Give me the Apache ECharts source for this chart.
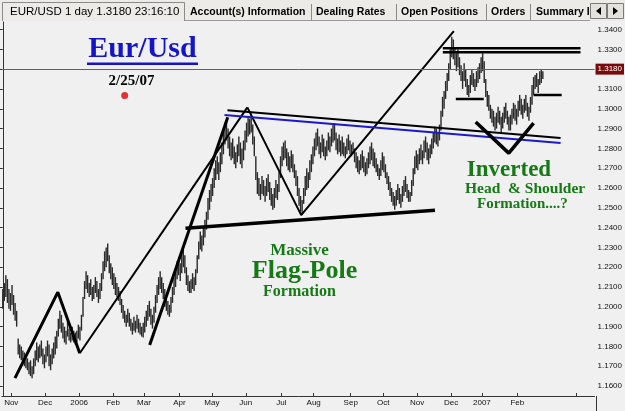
<!DOCTYPE html>
<html>
<head>
<meta charset="utf-8">
<script src="https://cdn.jsdelivr.net/npm/echarts@6/dist/echarts.min.js"></script>
<style>
  html, body { margin: 0; padding: 0; background: #f0f0f0; }
  #chart { width: 625px; height: 411px; }
</style>
</head>
<body>
<div id="chart"></div>
<script>
// daily bars, index 0 = 24 Oct 2005 ... 350 = 26 Feb 2007
var highs = [
  1.2090,1.2120,1.2160,1.2140,1.2090,1.2070,1.2110,1.2060,1.2020,1.1980,
  1.1840,1.1810,1.1800,1.1780,1.1770,1.1750,1.1740,1.1720,1.1730,1.1700,
  1.1740,1.1780,1.1820,1.1800,1.1810,1.1830,1.1790,1.1760,1.1800,1.1830,
  1.1810,1.1760,1.1790,1.1820,1.1850,1.1880,1.1940,1.1980,1.1960,1.1920,
  1.1900,1.1880,1.1930,1.1890,1.1870,1.1900,1.1880,1.1870,1.1880,1.1910,
  1.1900,1.1960,1.2050,1.2130,1.2180,1.2160,1.2120,1.2140,1.2100,1.2110,
  1.2150,1.2130,1.2090,1.2120,1.2170,1.2230,1.2280,1.2300,1.2320,1.2260,
  1.2220,1.2200,1.2170,1.2150,1.2120,1.2100,1.2080,1.2040,1.2010,1.1980,
  1.1960,1.1990,1.1970,1.1940,1.1920,1.1950,1.1930,1.1960,1.1940,1.1920,
  1.1900,1.1920,1.1950,1.1980,1.2010,1.2030,1.1990,1.1960,1.2000,1.2060,
  1.2110,1.2150,1.2180,1.2150,1.2120,1.2090,1.2060,1.2030,1.2010,1.2050,
  1.2100,1.2150,1.2190,1.2230,1.2250,1.2220,1.2270,1.2300,1.2260,1.2200,
  1.2160,1.2130,1.2140,1.2170,1.2150,1.2190,1.2260,1.2330,1.2380,1.2360,
  1.2400,1.2440,1.2480,1.2550,1.2590,1.2620,1.2650,1.2700,1.2740,1.2760,
  1.2730,1.2780,1.2830,1.2880,1.2930,1.2940,1.2900,1.2860,1.2830,1.2850,
  1.2810,1.2780,1.2820,1.2860,1.2830,1.2800,1.2840,1.2890,1.2930,1.2960,
  1.2950,1.2975,1.2920,1.2860,1.2760,1.2680,1.2650,1.2620,1.2660,1.2640,
  1.2610,1.2650,1.2670,1.2630,1.2600,1.2570,1.2600,1.2640,1.2620,1.2680,
  1.2760,1.2810,1.2830,1.2840,1.2800,1.2780,1.2760,1.2790,1.2770,1.2720,
  1.2690,1.2660,1.2600,1.2560,1.2540,1.2600,1.2660,1.2700,1.2680,1.2740,
  1.2770,1.2810,1.2850,1.2880,1.2900,1.2860,1.2830,1.2870,1.2850,1.2810,
  1.2840,1.2880,1.2860,1.2900,1.2920,1.2928,1.2880,1.2850,1.2870,1.2840,
  1.2860,1.2830,1.2810,1.2850,1.2870,1.2840,1.2820,1.2830,1.2800,1.2780,
  1.2760,1.2740,1.2770,1.2790,1.2760,1.2730,1.2750,1.2780,1.2810,1.2830,
  1.2800,1.2780,1.2750,1.2720,1.2700,1.2740,1.2780,1.2760,1.2720,1.2680,
  1.2660,1.2630,1.2600,1.2580,1.2560,1.2590,1.2620,1.2600,1.2570,1.2610,
  1.2640,1.2660,1.2620,1.2590,1.2580,1.2640,1.2700,1.2760,1.2790,1.2770,
  1.2800,1.2820,1.2790,1.2840,1.2860,1.2830,1.2800,1.2820,1.2850,1.2880,
  1.2910,1.2900,1.2880,1.2920,1.2990,1.3060,1.3090,1.3140,1.3180,1.3230,
  1.3300,1.3364,1.3350,1.3310,1.3280,1.3300,1.3260,1.3220,1.3190,1.3230,
  1.3200,1.3150,1.3120,1.3170,1.3200,1.3180,1.3150,1.3190,1.3210,1.3230,
  1.3260,1.3280,1.3240,1.3150,1.3090,1.3070,1.3020,1.3000,1.2990,1.2960,
  1.2980,1.3010,1.2990,1.2960,1.2980,1.3010,1.3030,1.2990,1.2960,1.2970,
  1.3000,1.3030,1.3020,1.3000,1.3040,1.3070,1.3050,1.3020,1.3050,1.3070,
  1.3030,1.3010,1.3060,1.3120,1.3160,1.3170,1.3180,1.3150,1.3190,1.3200,1.3190
];
var lows = [
  1.1990,1.2030,1.2050,1.2020,1.1990,1.1980,1.2010,1.1960,1.1930,1.1900,
  1.1760,1.1740,1.1730,1.1720,1.1700,1.1690,1.1680,1.1660,1.1650,1.1640,
  1.1660,1.1700,1.1730,1.1720,1.1740,1.1750,1.1710,1.1690,1.1720,1.1750,
  1.1700,1.1680,1.1710,1.1740,1.1760,1.1790,1.1850,1.1890,1.1870,1.1840,
  1.1820,1.1810,1.1850,1.1830,1.1820,1.1830,1.1820,1.1810,1.1820,1.1840,
  1.1830,1.1880,1.1950,1.2040,1.2090,1.2070,1.2050,1.2060,1.2030,1.2040,
  1.2070,1.2050,1.2020,1.2040,1.2080,1.2140,1.2180,1.2200,1.2230,1.2170,
  1.2140,1.2110,1.2090,1.2060,1.2050,1.2030,1.2010,1.1970,1.1940,1.1920,
  1.1900,1.1920,1.1900,1.1880,1.1860,1.1880,1.1870,1.1890,1.1870,1.1860,
  1.1850,1.1845,1.1870,1.1900,1.1930,1.1950,1.1910,1.1890,1.1920,1.1970,
  1.2020,1.2060,1.2090,1.2070,1.2040,1.2000,1.1980,1.1960,1.1950,1.1970,
  1.2020,1.2060,1.2100,1.2140,1.2160,1.2130,1.2170,1.2200,1.2170,1.2110,
  1.2080,1.2070,1.2070,1.2090,1.2080,1.2110,1.2170,1.2240,1.2290,1.2280,
  1.2310,1.2350,1.2390,1.2440,1.2490,1.2530,1.2560,1.2600,1.2640,1.2670,
  1.2640,1.2680,1.2720,1.2770,1.2820,1.2840,1.2800,1.2760,1.2740,1.2750,
  1.2720,1.2700,1.2730,1.2760,1.2720,1.2700,1.2740,1.2790,1.2830,1.2860,
  1.2870,1.2880,1.2820,1.2760,1.2640,1.2570,1.2560,1.2540,1.2570,1.2560,
  1.2530,1.2560,1.2580,1.2540,1.2510,1.2490,1.2500,1.2550,1.2540,1.2580,
  1.2650,1.2710,1.2740,1.2750,1.2710,1.2690,1.2680,1.2700,1.2680,1.2650,
  1.2610,1.2560,1.2510,1.2480,1.2470,1.2520,1.2560,1.2590,1.2600,1.2640,
  1.2680,1.2720,1.2760,1.2790,1.2810,1.2770,1.2750,1.2780,1.2760,1.2740,
  1.2760,1.2790,1.2780,1.2810,1.2830,1.2840,1.2790,1.2770,1.2780,1.2760,
  1.2770,1.2760,1.2750,1.2770,1.2790,1.2770,1.2760,1.2770,1.2730,1.2700,
  1.2680,1.2670,1.2690,1.2700,1.2680,1.2660,1.2670,1.2700,1.2720,1.2740,
  1.2710,1.2700,1.2680,1.2660,1.2640,1.2660,1.2690,1.2680,1.2650,1.2620,
  1.2590,1.2560,1.2530,1.2510,1.2490,1.2510,1.2540,1.2520,1.2500,1.2530,
  1.2560,1.2580,1.2550,1.2530,1.2530,1.2560,1.2610,1.2670,1.2700,1.2690,
  1.2720,1.2740,1.2720,1.2750,1.2780,1.2740,1.2720,1.2750,1.2770,1.2800,
  1.2830,1.2820,1.2810,1.2840,1.2890,1.2960,1.3000,1.3050,1.3090,1.3140,
  1.3200,1.3260,1.3250,1.3220,1.3190,1.3210,1.3170,1.3140,1.3100,1.3140,
  1.3110,1.3070,1.3060,1.3080,1.3120,1.3110,1.3090,1.3110,1.3130,1.3150,
  1.3180,1.3190,1.3130,1.3060,1.3010,1.2990,1.2950,1.2930,1.2910,1.2890,
  1.2900,1.2930,1.2920,1.2880,1.2900,1.2930,1.2950,1.2920,1.2890,1.2890,
  1.2920,1.2950,1.2940,1.2920,1.2960,1.2990,1.2970,1.2950,1.2980,1.2990,
  1.2960,1.2940,1.2980,1.3020,1.3070,1.3100,1.3110,1.3080,1.3120,1.3130,1.3150
];

// x axis: month starts (bar index) and their labels
var monthPos = [5.5, 27.5, 49.5, 71.5, 91.5, 114.5, 135.5, 157.5, 180.5, 201.5, 225.5, 246.5, 268.5, 290.5, 310.5, 333.5];
var monthLabels = ['Nov', 'Dec', '2006', 'Feb', 'Mar', 'Apr', 'May', 'Jun', 'Jul', 'Aug', 'Sep', 'Oct', 'Nov', 'Dec', '2007', 'Feb'];
var extraTicks = [0.5, 371.5];
var priceTicks = [1.16, 1.17, 1.18, 1.19, 1.20, 1.21, 1.22, 1.23, 1.24, 1.25, 1.26, 1.27, 1.28, 1.29, 1.30, 1.31, 1.32, 1.33, 1.34];
var lastClose = 1.3180;

// hand drawn trend lines, [bar index, price]
var poleZig = [[7.9, 1.1640], [35.7, 1.2074], [49.9, 1.1766]];
var poleLong = [[49.9, 1.1766], [158.5, 1.3007]];
var poleSteep = [[95.2, 1.1807], [145.8, 1.2957]];
var flagZig = [[158.5, 1.3007], [193.4, 1.2463], [292.3, 1.3392]];
var flagTop = [[145.6, 1.2993], [361.5, 1.2852]];
var flagBlue = [[143.7, 1.2968], [361.5, 1.2827]];
var flagBottom = [[118.4, 1.2397], [280.1, 1.2488]];
var topLineA = [[285.2, 1.3305], [374.4, 1.3305]];
var topLineB = [[285.2, 1.3285], [374.4, 1.3285]];
var shoulderLeft = [[293.6, 1.3049], [311.7, 1.3049]];
var shoulderRight = [[344.0, 1.3069], [362.2, 1.3069]];
var headV = [[306.5, 1.2933], [327.9, 1.2776], [344.0, 1.2928]];
var datePoint = [[79.0, 1.3067]];

var chart = echarts.init(document.getElementById('chart'));

var bars = highs.map(function (h, i) { return [i, h, lows[i]]; });

function renderBar(params, api) {
  var top = api.coord([api.value(0), api.value(1)]);
  var bottom = api.coord([api.value(0), api.value(2)]);
  return {
    type: 'line',
    shape: {x1: top[0], y1: top[1], x2: bottom[0], y2: bottom[1]},
    style: {stroke: '#2a2a2a', lineWidth: 1.4}
  };
}

function trend(data, width, color) {
  return {
    type: 'line',
    data: data,
    symbol: 'none',
    silent: true,
    z: 4,
    lineStyle: {color: color || '#000', width: width}
  };
}

var green = '#157a15';
var serif = '"Liberation Serif", "DejaVu Serif", serif';
var sans = '"Liberation Sans", Arial, sans-serif';

var option = {
  backgroundColor: '#f0f0f0',
  animation: false,
  grid: {left: 2, right: 29, top: 22, bottom: 15},
  xAxis: {
    type: 'value',
    min: -0.5,
    max: 383.5,
    axisLine: {lineStyle: {color: '#333', width: 1}},
    axisTick: {inside: true, length: 3, customValues: monthPos.concat(extraTicks), lineStyle: {color: '#333'}},
    axisLabel: {
      customValues: monthPos,
      formatter: function (v) { return monthLabels[monthPos.indexOf(v)]; },
      fontSize: 8, color: '#111', margin: 3, fontFamily: sans
    },
    splitLine: {show: false}
  },
  yAxis: {
    type: 'value',
    position: 'right',
    min: 1.155,
    max: 1.3438,
    axisLine: {show: true, lineStyle: {color: '#333', width: 1}},
    axisTick: {show: true, inside: true, length: 3, customValues: priceTicks, lineStyle: {color: '#333'}},
    axisLabel: {
      customValues: priceTicks,
      formatter: function (v) { return v.toFixed(4); },
      fontSize: 8, color: '#111', margin: 3, fontFamily: sans
    },
    splitLine: {show: false}
  },
  series: [
    {
      type: 'custom',
      data: bars,
      renderItem: renderBar,
      encode: {x: 0, y: [1, 2]},
      silent: true,
      z: 3,
      markLine: {
        silent: true,
        symbol: ['none', 'none'],
        lineStyle: {color: '#a04848', width: 1, type: 'solid', opacity: 1},
        label: {
          show: true, position: 'end', distance: 1,
          formatter: lastClose.toFixed(4),
          color: '#fff', backgroundColor: '#7a0a0a',
          fontSize: 8, fontFamily: sans, padding: [2, 2, 1, 2]
        },
        data: [{yAxis: lastClose}]
      }
    },
    trend(poleZig, 3),
    trend(poleLong, 2),
    trend(poleSteep, 3),
    trend(flagZig, 2),
    trend(flagTop, 2),
    trend(flagBlue, 2, '#1a1acc'),
    trend(flagBottom, 3.5),
    trend(topLineA, 2.5),
    trend(topLineB, 2.5),
    trend(shoulderLeft, 2.5),
    trend(shoulderRight, 2.5),
    trend(headV, 3.5),
    {
      type: 'scatter',
      data: datePoint,
      symbolSize: 7,
      silent: true,
      itemStyle: {color: '#e00000'},
      z: 5
    }
  ],
  graphic: [
    // tab strip
    {type: 'rect', shape: {x: 0, y: 0, width: 625, height: 21}, style: {fill: '#ecebe8'}, z: 10},
    {type: 'line', shape: {x1: 184, y1: 20.5, x2: 590, y2: 20.5}, style: {stroke: '#9a9a9a', lineWidth: 1}, z: 11},
    {type: 'polyline', shape: {points: [[2.5, 21], [2.5, 2.5], [184.5, 2.5], [184.5, 21]]}, style: {stroke: '#8a8a8a', fill: null, lineWidth: 1}, z: 11},
    {type: 'line', shape: {x1: 311.5, y1: 4, x2: 311.5, y2: 20}, style: {stroke: '#8a8a8a'}, z: 11},
    {type: 'line', shape: {x1: 396.5, y1: 4, x2: 396.5, y2: 20}, style: {stroke: '#8a8a8a'}, z: 11},
    {type: 'line', shape: {x1: 486.5, y1: 4, x2: 486.5, y2: 20}, style: {stroke: '#8a8a8a'}, z: 11},
    {type: 'line', shape: {x1: 530.5, y1: 4, x2: 530.5, y2: 20}, style: {stroke: '#8a8a8a'}, z: 11},
    {type: 'text', x: 10, y: 12, style: {text: 'EUR/USD 1 day 1.3180 23:16:10', font: '11.5px ' + sans, fill: '#000', verticalAlign: 'middle'}, z: 12},
    {type: 'text', x: 190, y: 12, style: {text: 'Account(s) Information', font: 'bold 10.5px ' + sans, fill: '#000', verticalAlign: 'middle'}, z: 12},
    {type: 'text', x: 316, y: 12, style: {text: 'Dealing Rates', font: 'bold 10.5px ' + sans, fill: '#000', verticalAlign: 'middle'}, z: 12},
    {type: 'text', x: 401, y: 12, style: {text: 'Open Positions', font: 'bold 10.5px ' + sans, fill: '#000', verticalAlign: 'middle'}, z: 12},
    {type: 'text', x: 491, y: 12, style: {text: 'Orders', font: 'bold 10.5px ' + sans, fill: '#000', verticalAlign: 'middle'}, z: 12},
    {type: 'text', x: 536, y: 12, style: {text: 'Summary I', font: 'bold 10.5px ' + sans, fill: '#000', verticalAlign: 'middle'}, z: 12},
    {type: 'rect', shape: {x: 590.5, y: 3.5, width: 16, height: 15}, style: {fill: '#e4e2dc', stroke: '#7a7a7a'}, z: 12},
    {type: 'rect', shape: {x: 607.5, y: 3.5, width: 16, height: 15}, style: {fill: '#e4e2dc', stroke: '#7a7a7a'}, z: 12},
    {type: 'polygon', shape: {points: [[601, 7], [601, 15], [596, 11]]}, style: {fill: '#000'}, z: 13},
    {type: 'polygon', shape: {points: [[613, 7], [613, 15], [618, 11]]}, style: {fill: '#000'}, z: 13},
    // right axis line continues to the bottom edge
    {type: 'line', shape: {x1: 596.5, y1: 396, x2: 596.5, y2: 411}, style: {stroke: '#333'}, z: 11},
    // annotations
    {type: 'text', x: 142.5, y: 49.5, style: {text: 'Eur/Usd', font: 'bold 30px ' + serif, fill: '#1414c8', align: 'center', verticalAlign: 'middle'}, z: 12},
    {type: 'rect', shape: {x: 87, y: 62.5, width: 111, height: 2.5}, style: {fill: '#1414c8'}, z: 12},
    {type: 'text', x: 131.5, y: 81.5, style: {text: '2/25/07', font: 'bold 15px ' + serif, fill: '#000', align: 'center', verticalAlign: 'middle'}, z: 12},
    {type: 'text', x: 299.5, y: 251, style: {text: 'Massive', font: 'bold 17px ' + serif, fill: green, align: 'center', verticalAlign: 'middle'}, z: 12},
    {type: 'text', x: 304.5, y: 271, style: {text: 'Flag-Pole', font: 'bold 26px ' + serif, fill: green, align: 'center', verticalAlign: 'middle'}, z: 12},
    {type: 'text', x: 299.5, y: 292, style: {text: 'Formation', font: 'bold 16px ' + serif, fill: green, align: 'center', verticalAlign: 'middle'}, z: 12},
    {type: 'text', x: 509, y: 170, style: {text: 'Inverted', font: 'bold 23px ' + serif, fill: green, align: 'center', verticalAlign: 'middle'}, z: 12},
    {type: 'text', x: 465, y: 188.5, style: {text: 'Head  & Shoulder', font: 'bold 15.5px ' + serif, fill: green, verticalAlign: 'middle'}, z: 12},
    {type: 'text', x: 477, y: 204.5, style: {text: 'Formation....?', font: 'bold 15px ' + serif, fill: green, verticalAlign: 'middle'}, z: 12}
  ]
};

chart.setOption(option);
</script>
</body>
</html>
